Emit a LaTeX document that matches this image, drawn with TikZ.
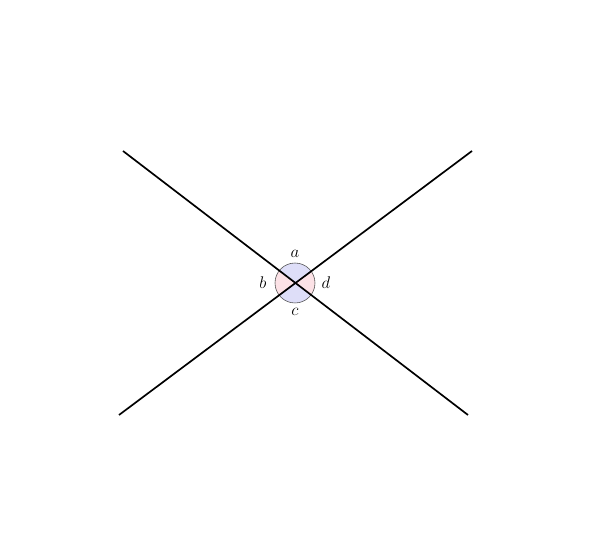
\documentclass[tikz,border=0pt]{standalone}
\usepackage{amsmath}
\usepackage{tikz}
\usetikzlibrary{positioning}
\definecolor{angblue}{RGB}{222,222,248}
\definecolor{angred}{RGB}{252,226,230}
\tikzstyle{line} = [line width=1.2pt,color=black]
\tikzstyle{anglabel} = [font=\large, inner sep=1pt]

\begin{document}
\begin{tikzpicture}
\useasboundingbox (-7.375,-6.475) rectangle (7.625,7.075);
% End points of the two lines
\coordinate (o) at (0,0);
\coordinate (nw) at (-4.3,3.3);
\coordinate (se) at (4.325,-3.3);
\coordinate (sw) at (-4.4,-3.3);
\coordinate (ne) at (4.425,3.3);

% Angle sectors
\fill[angblue] (o) -- (36.7:0.5) arc (36.7:142.5:0.5) -- cycle;
\fill[angred] (o) -- (142.5:0.5) arc (142.5:216.7:0.5) -- cycle;
\fill[angblue] (o) -- (216.7:0.5) arc (216.7:322.5:0.5) -- cycle;
\fill[angred] (o) -- (-37.5:0.5) arc (-37.5:36.7:0.5) -- cycle;
\draw[black!70, line width=0.4pt] (o) circle (0.5);

% Lines
\draw[line] (nw) -- (se);
\draw[line] (sw) -- (ne);

% Labels
\node (a) [anglabel] at (0,0.72) {$a$};
\node (b) [anglabel] at (-0.8,0) {$b$};
\node (c) [anglabel] at (0,-0.72) {$c$};
\node (d) [anglabel] at (0.775,0) {$d$};
\end{tikzpicture}
\end{document}
